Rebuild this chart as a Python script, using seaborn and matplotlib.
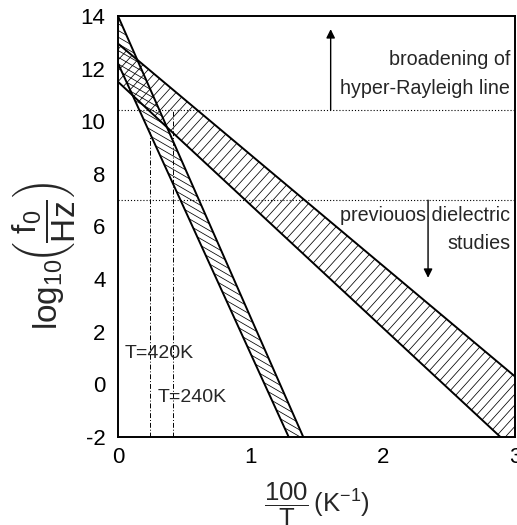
import numpy as np
import matplotlib
matplotlib.use("Agg")
import matplotlib.pyplot as plt
from matplotlib.patches import Polygon
import seaborn as sns

# Edges of the two relaxation bands: x = 100/T (1/K), y = log10(f0/Hz)
steep_upper_x = [0.0, 1.40]
steep_upper_y = [14.0, -2.0]
steep_lower_x = [0.0, 1.29]
steep_lower_y = [12.2, -2.0]

shallow_upper_x = [0.0, 3.0]
shallow_upper_y = [12.95, 0.3]
shallow_lower_x = [0.0, 2.89]
shallow_lower_y = [11.5, -2.0]

# Frequency limits of the two experimental windows (log10 f0)
hyper_rayleigh_limit = 10.43
dielectric_limit = 7.0

# Temperature markers (K) and the height their guide lines reach
temperatures = [420, 240]
temperature_line_tops = [9.6, 10.43]
temperature_labels = ["T=420K", "T=240K"]

x_ticks = [0, 1, 2, 3]
y_ticks = [-2, 0, 2, 4, 6, 8, 10, 12, 14]

sns.set_theme(style="white")
plt.rcParams["font.family"] = ["Liberation Sans", "DejaVu Sans"]
plt.rcParams["mathtext.fontset"] = "custom"
plt.rcParams["mathtext.rm"] = "Liberation Sans"
plt.rcParams["mathtext.it"] = "Liberation Sans:italic"
plt.rcParams["mathtext.bf"] = "Liberation Sans:bold"

fig = plt.figure(figsize=(5.17, 5.25), dpi=100)
ax = fig.add_axes([118 / 517, 1 - 437 / 525, (515 - 118) / 517, (437 - 16) / 525])
ax.set_xlim(0, 3)
ax.set_ylim(-2, 14)
ax.set_autoscale_on(False)


def hatch_region(ax, verts, angle_deg, spacing_px, lw=0.55):
    """Fill a polygon with parallel lines at a given screen angle."""
    poly = Polygon(verts, closed=True, facecolor="none", edgecolor="none")
    ax.add_patch(poly)
    trans = ax.transData
    pts = trans.transform(np.asarray(verts))
    th = np.deg2rad(angle_deg)
    d = np.array([np.cos(th), np.sin(th)])
    n = np.array([-np.sin(th), np.cos(th)])
    proj = pts @ n
    center = pts.mean(axis=0)
    span = 2000.0
    for c in np.arange(proj.min() - spacing_px, proj.max() + spacing_px, spacing_px):
        base = center + (c - center @ n) * n
        seg = trans.inverted().transform(np.array([base - span * d, base + span * d]))
        line, = ax.plot(seg[:, 0], seg[:, 1], color="black", lw=lw, solid_capstyle="butt")
        line.set_clip_path(poly)


steep_band = [
    (steep_upper_x[0], steep_upper_y[0]),
    (steep_upper_x[1], steep_upper_y[1]),
    (steep_lower_x[1], steep_lower_y[1]),
    (steep_lower_x[0], steep_lower_y[0]),
]
shallow_band = [
    (shallow_upper_x[0], shallow_upper_y[0]),
    (shallow_upper_x[1], shallow_upper_y[1]),
    (3.0, -2.0),
    (shallow_lower_x[1], shallow_lower_y[1]),
    (shallow_lower_x[0], shallow_lower_y[0]),
]

hatch_region(ax, steep_band, -30, 5.8)
hatch_region(ax, shallow_band, 48, 7.2)

# Band boundaries
for xs, ys in [
    (steep_upper_x, steep_upper_y),
    (steep_lower_x, steep_lower_y),
    (shallow_upper_x, shallow_upper_y),
    (shallow_lower_x, shallow_lower_y),
]:
    sns.lineplot(x=xs, y=ys, ax=ax, color="black", lw=1.4, estimator=None, sort=False)

# Experimental windows
for level in [hyper_rayleigh_limit, dielectric_limit]:
    ax.axhline(level, color="black", lw=0.8, linestyle=(0, (1, 1.8)))

# Temperature guide lines
for temp, top, label in zip(temperatures, temperature_line_tops, temperature_labels):
    xpos = 100.0 / temp
    ax.plot([xpos, xpos], [-2, top], color="black", lw=0.7, linestyle=(0, (5, 2, 1, 2)))

ax.text(0.053, 1.19, temperature_labels[0], fontsize=14, ha="left", va="center")
ax.text(0.30, -0.49, temperature_labels[1], fontsize=14, ha="left", va="center")

# Annotations for the two measurement regimes
ax.annotate("", xy=(1.607, 13.5), xytext=(1.607, hyper_rayleigh_limit),
            arrowprops=dict(arrowstyle="-|>", color="black", lw=1.0, mutation_scale=13,
                            shrinkA=0, shrinkB=0))
ax.annotate("", xy=(2.343, 4.05), xytext=(2.343, dielectric_limit),
            arrowprops=dict(arrowstyle="-|>", color="black", lw=1.0, mutation_scale=13,
                            shrinkA=0, shrinkB=0))
ax.text(2.963, 12.33, "broadening of", fontsize=14.2, ha="right", va="center")
ax.text(2.963, 11.26, "hyper-Rayleigh line", fontsize=14.2, ha="right", va="center")
ax.text(2.963, 6.43, "previouos dielectric", fontsize=14.2, ha="right", va="center")
ax.text(2.963, 5.37, "studies", fontsize=14.2, ha="right", va="center")

# Axes styling
ax.set_xticks(x_ticks)
ax.set_yticks(y_ticks)
ax.set_xticklabels([str(t) for t in x_ticks])
ax.set_yticklabels([str(t) for t in y_ticks])
ax.tick_params(axis="both", direction="in", length=9, width=1.1, labelsize=16,
               colors="black", top=False, right=False)
ax.tick_params(axis="y", pad=9)
ax.tick_params(axis="x", pad=7)
for sp in ax.spines.values():
    sp.set_color("black")
    sp.set_linewidth(1.4)
ax.grid(False)

ax.set_xlabel(r"$\dfrac{100}{\mathrm{T}}\,(\mathrm{K}^{-1})$", fontsize=18.5)
ax.xaxis.label.set_va("top")
ax.xaxis.set_label_coords(0.501, -0.105)
ax.set_ylabel(r"$\mathrm{log}_{10}\!\left(\dfrac{\mathrm{f}_0}{\mathrm{Hz}}\right)$", fontsize=24)
ax.yaxis.label.set_va("center")
ax.yaxis.set_label_coords(-0.188, 0.43)

fig.savefig("out.png", dpi=100)
